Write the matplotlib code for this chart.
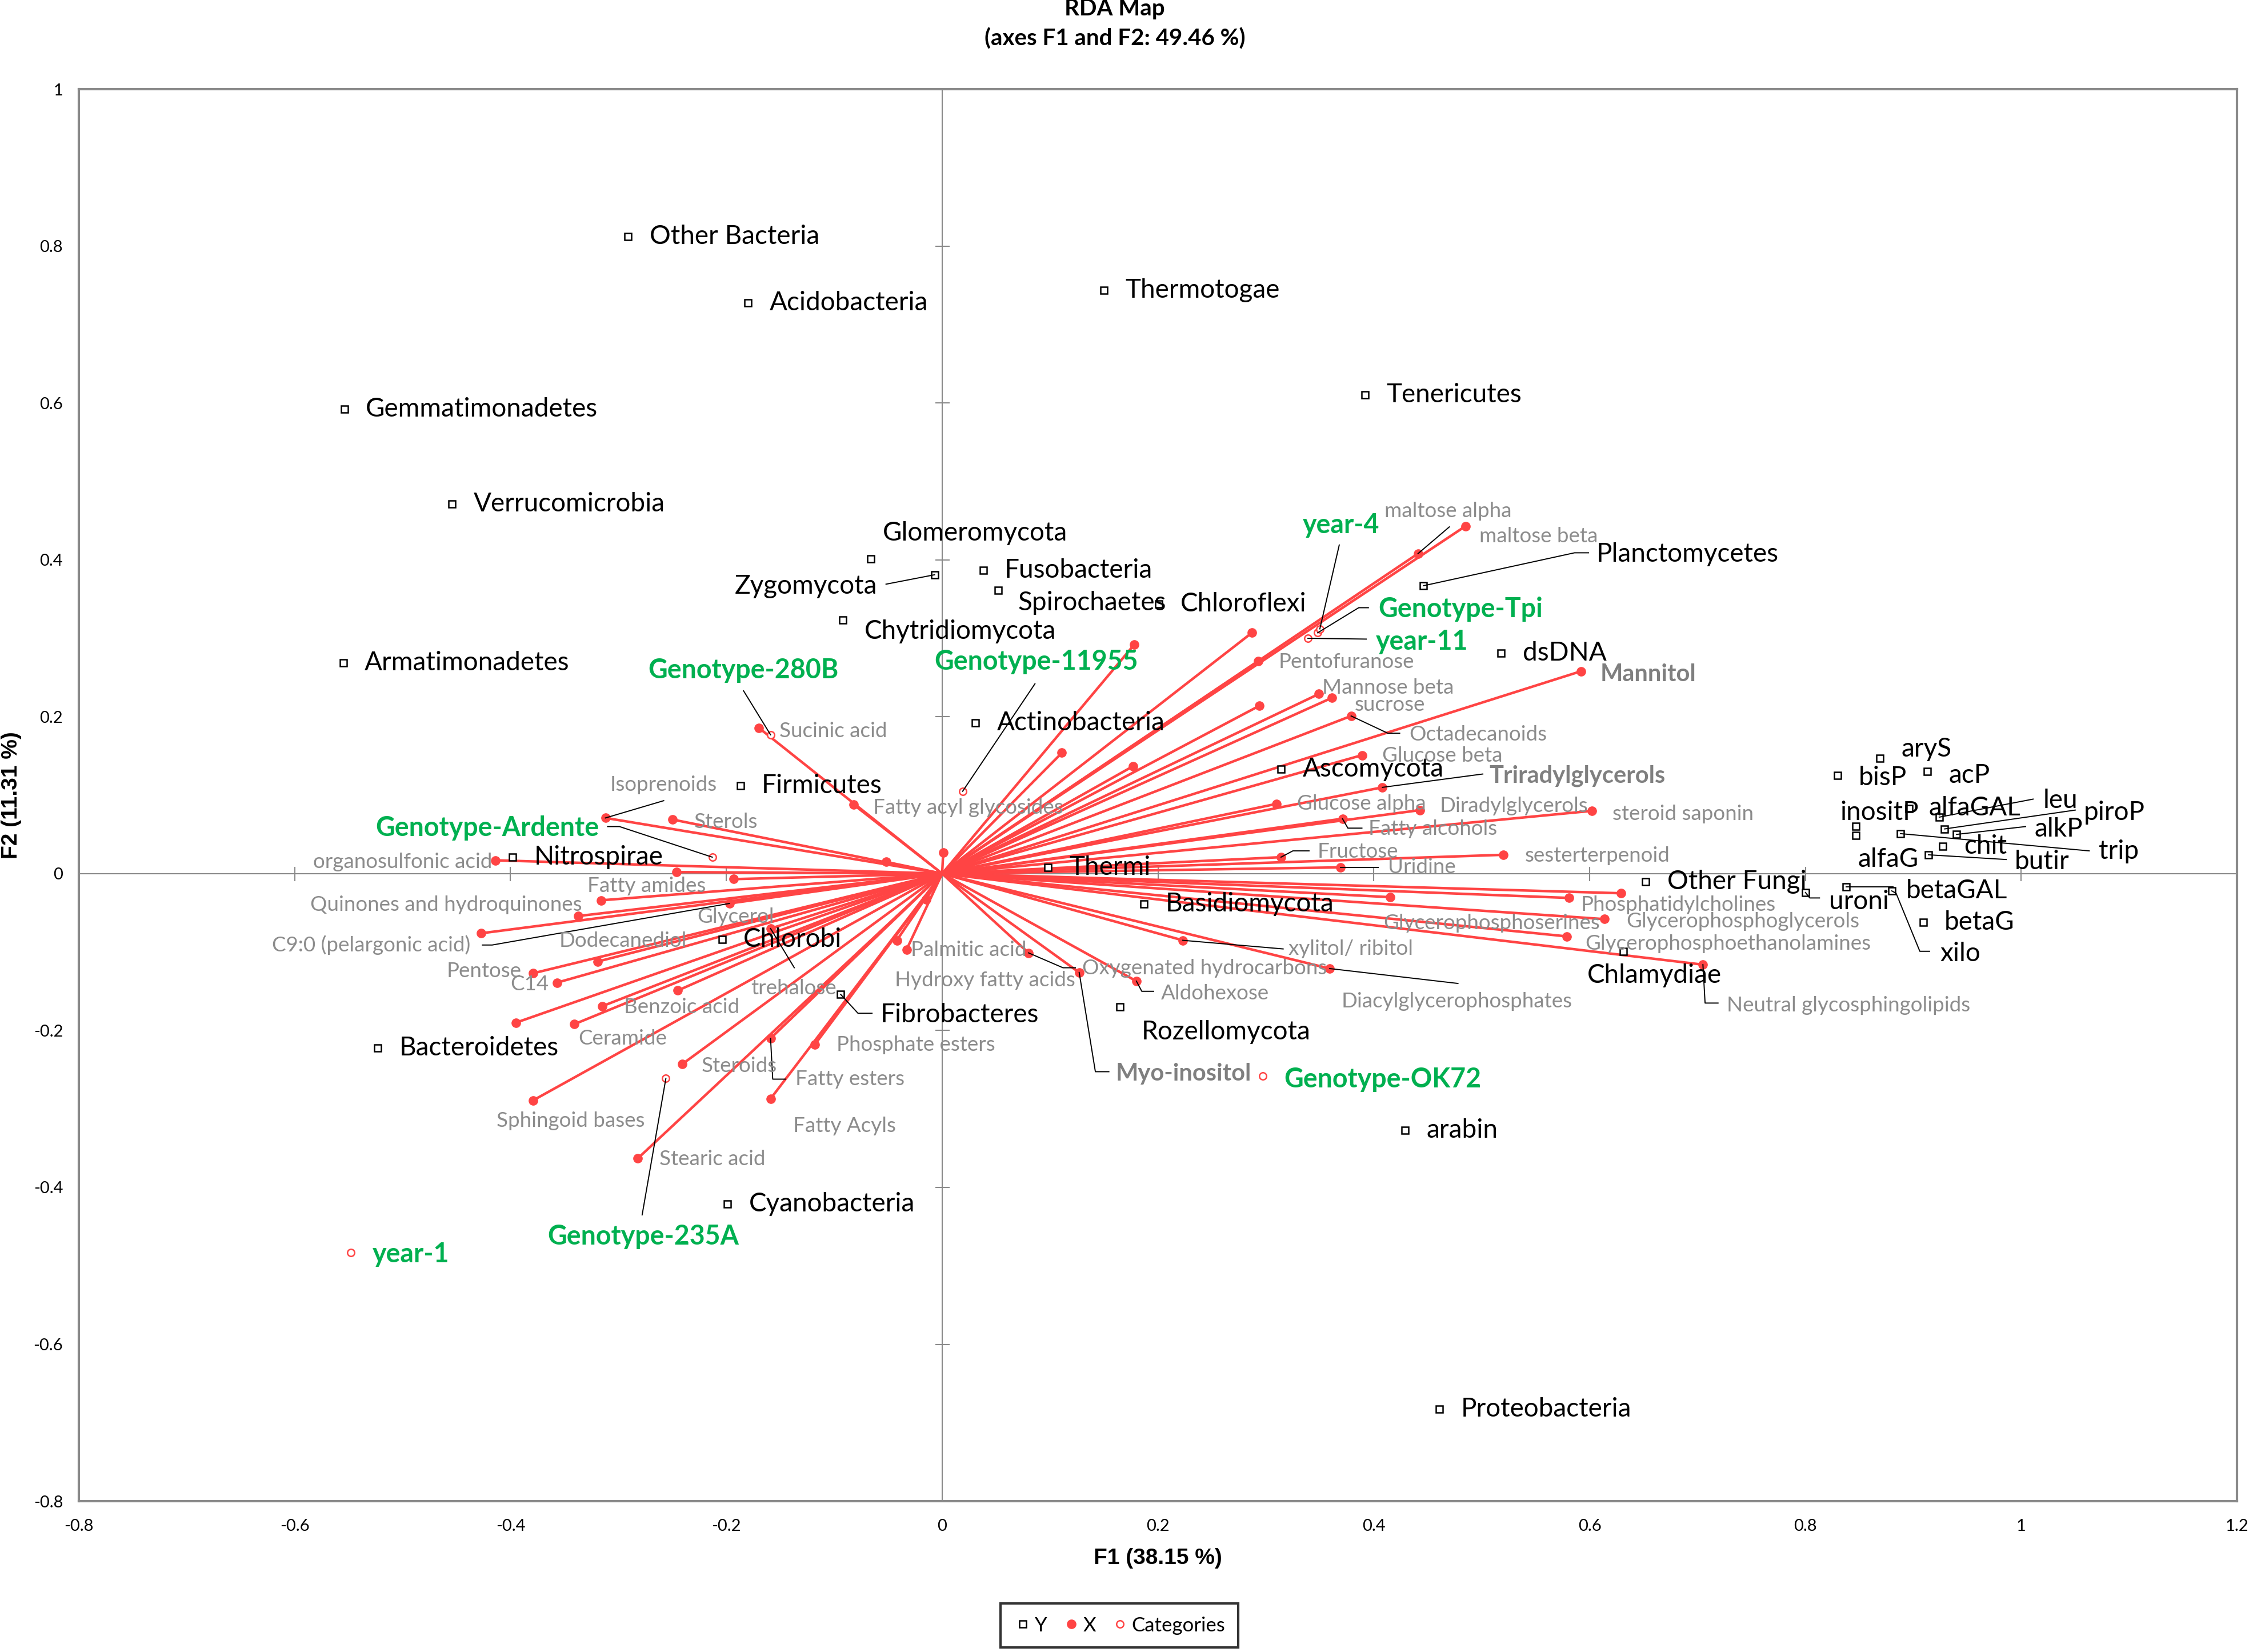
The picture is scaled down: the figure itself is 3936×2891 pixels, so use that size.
import matplotlib
matplotlib.use('Agg')
import matplotlib.pyplot as plt
from matplotlib.lines import Line2D

plt.rcParams['font.family'] = ['Lato', 'DejaVu Sans']

# ---------------- data (F1, F2 scores) ----------------
# Y variables (black squares)
y_names = ['Other Bacteria', 'Acidobacteria', 'Thermotogae', 'Tenericutes', 'Gemmatimonadetes',
           'Verrucomicrobia', 'Glomeromycota', 'Zygomycota', 'Fusobacteria', 'Spirochaetes',
           'Chloroflexi', 'Chytridiomycota', 'Armatimonadetes', 'Planctomycetes', 'dsDNA',
           'Actinobacteria', 'Firmicutes', 'Ascomycota', 'Nitrospirae', 'Thermi',
           'Basidiomycota', 'Chlorobi', 'Fibrobacteres', 'Rozellomycota', 'Bacteroidetes',
           'Cyanobacteria', 'arabin', 'Proteobacteria', 'Other Fungi', 'Chlamydiae',
           'uroni', 'betaGAL', 'xilo', 'betaG', 'aryS', 'bisP', 'acP', 'inositP', 'alfaG',
           'alfaGAL', 'leu', 'piroP', 'alkP', 'trip', 'chit', 'butir']
y_f1 = [-0.291, -0.180, 0.150, 0.392, -0.554, -0.454, -0.066, -0.007, 0.038, 0.052,
        0.201, -0.092, -0.555, 0.446, 0.518, 0.031, -0.187, 0.314, -0.398, 0.098,
        0.187, -0.204, -0.094, 0.165, -0.523, -0.199, 0.429, 0.461, 0.652, 0.631,
        0.800, 0.838, 0.880, 0.909, 0.869, 0.830, 0.913, 0.847, 0.847, 0.896,
        0.924, 0.929, 0.940, 0.888, 0.927, 0.914]
y_f2 = [0.812, 0.728, 0.744, 0.610, 0.592, 0.471, 0.401, 0.381, 0.387, 0.361,
        0.344, 0.323, 0.269, 0.367, 0.281, 0.192, 0.112, 0.133, 0.021, 0.008,
        -0.039, -0.084, -0.154, -0.170, -0.222, -0.421, -0.327, -0.683, -0.010, -0.099,
        -0.024, -0.017, -0.022, -0.062, 0.147, 0.125, 0.130, 0.060, 0.049, 0.083,
        0.072, 0.057, 0.050, 0.051, 0.035, 0.024]

# X variables (red vectors), '' = unlabelled on the map
x_names = ['Sucinic acid', 'Fatty acyl glycosides', 'Isoprenoids', 'Sterols', 'organosulfonic acid',
           '', 'Fatty amides', 'Glycerol', 'Quinones and hydroquinones', 'Dodecanediol',
           '', 'C9:0 (pelargonic acid)', '', 'Pentose', 'C14', 'Benzoic acid', '', '',
           'Ceramide', 'Steroids', 'Sphingoid bases', 'Stearic acid', 'Fatty esters',
           'Phosphate esters', 'Fatty Acyls', 'Hydroxy fatty acids', 'Palmitic acid', '', '',
           'trehalose',
           'maltose alpha', 'maltose beta', '', '', 'Pentofuranose', 'Mannose beta', 'sucrose',
           '', 'Octadecanoids', '', '', 'Glucose beta', 'Triradylglycerols', 'Mannitol',
           'Glucose alpha', 'Diradylglycerols', 'Fatty alcohols', 'steroid saponin', 'Fructose',
           'sesterterpenoid', 'Uridine', 'Phosphatidylcholines', '', 'Glycerophosphoserines',
           'Glycerophosphoglycerols', 'Glycerophosphoethanolamines', 'Neutral glycosphingolipids',
           'Diacylglycerophosphates', 'xylitol/ ribitol', 'Aldohexose', 'Myo-inositol',
           'Oxygenated hydrocarbons']
x_f1 = [-0.170, -0.082, -0.312, -0.250, -0.414, -0.052, -0.246, -0.193, -0.316, -0.337,
        -0.427, -0.197, -0.319, -0.379, -0.357, -0.245, -0.315, -0.395, -0.341, -0.241,
        -0.379, -0.282, -0.159, -0.118, -0.159, -0.042, -0.033, -0.015, 0.001, -0.159,
        0.441, 0.485, 0.287, 0.178, 0.293, 0.349, 0.361, 0.294, 0.379, 0.111,
        0.177, 0.389, 0.408, 0.592, 0.310, 0.443, 0.371, 0.602, 0.314, 0.520,
        0.369, 0.629, 0.581, 0.415, 0.614, 0.579, 0.705, 0.359, 0.223, 0.180,
        0.127, 0.080]
x_f2 = [0.186, 0.088, 0.071, 0.069, 0.017, 0.015, 0.002, -0.007, -0.034, -0.054,
        -0.076, -0.038, -0.112, -0.127, -0.139, -0.149, -0.169, -0.190, -0.192, -0.243,
        -0.289, -0.363, -0.210, -0.218, -0.287, -0.085, -0.097, -0.033, 0.027, -0.070,
        0.408, 0.443, 0.307, 0.292, 0.271, 0.229, 0.224, 0.214, 0.201, 0.154,
        0.137, 0.151, 0.110, 0.258, 0.089, 0.081, 0.070, 0.080, 0.021, 0.024,
        0.008, -0.025, -0.031, -0.030, -0.058, -0.080, -0.116, -0.121, -0.085, -0.137,
        -0.126, -0.101]
x_bold = ['Triradylglycerols', 'Mannitol', 'Myo-inositol']

# Categories (hollow red circles)
cat_names = ['Genotype-280B', 'Genotype-11955', 'Genotype-Ardente', 'Genotype-Tpi', 'year-4',
             'year-11', 'Genotype-OK72', 'Genotype-235A', 'year-1']
cat_f1 = [-0.159, 0.019, -0.213, 0.348, 0.350, 0.339, 0.297, -0.256, -0.548]
cat_f2 = [0.177, 0.105, 0.021, 0.307, 0.312, 0.300, -0.258, -0.261, -0.483]

x_ticks = [-0.8, -0.6, -0.4, -0.2, 0, 0.2, 0.4, 0.6, 0.8, 1, 1.2]
y_ticks = [-0.8, -0.6, -0.4, -0.2, 0, 0.2, 0.4, 0.6, 0.8, 1]

# ---------------- label layout: name -> (x, y, ha, leader waypoints) ----------------
y_lab = {
    'Glomeromycota': (-0.055, 0.434, 'left', []),
    'Zygomycota': (-0.060, 0.366, 'right', [(-0.052, 0.369)]),
    'Spirochaetes': (0.070, 0.345, 'left', []),
    'Chytridiomycota': (-0.072, 0.309, 'left', []),
    'Planctomycetes': (0.606, 0.407, 'left', [(0.586, 0.409), (0.599, 0.409)]),
    'Fibrobacteres': (-0.057, -0.180, 'left', [(-0.078, -0.178), (-0.065, -0.178)]),
    'Rozellomycota': (0.185, -0.202, 'left', []),
    'Chlamydiae': (0.598, -0.130, 'left', []),
    'uroni': (0.822, -0.036, 'left', [(0.804, -0.031), (0.813, -0.031)]),
    'betaGAL': (0.893, -0.022, 'left', [(0.881, -0.017)]),
    'xilo': (0.925, -0.102, 'left', [(0.884, -0.025), (0.906, -0.099), (0.915, -0.099)]),
    'aryS': (0.889, 0.159, 'left', []),
    'bisP': (0.849, 0.122, 'left', []),
    'acP': (0.933, 0.125, 'left', []),
    'inositP': (0.832, 0.078, 'left', []),
    'alfaG': (0.905, 0.018, 'right', []),
    'alfaGAL': (0.914, 0.084, 'left', []),
    'leu': (1.020, 0.093, 'left', [(1.011, 0.095)]),
    'piroP': (1.058, 0.078, 'left', [(1.050, 0.081)]),
    'alkP': (1.012, 0.057, 'left', [(1.004, 0.060)]),
    'trip': (1.072, 0.028, 'left', [(1.063, 0.029)]),
    'chit': (0.947, 0.035, 'left', []),
    'butir': (0.994, 0.015, 'left', [(0.986, 0.018)]),
}

x_lab = {
    'Sucinic acid': (-0.151, 0.182, 'left', []),
    'Fatty acyl glycosides': (-0.064, 0.084, 'left', []),
    'Isoprenoids': (-0.308, 0.113, 'left', [(-0.258, 0.093)]),
    'Sterols': (-0.230, 0.066, 'left', []),
    'organosulfonic acid': (-0.417, 0.015, 'right', []),
    'Fatty amides': (-0.329, -0.016, 'left', []),
    'Quinones and hydroquinones': (-0.334, -0.040, 'right', []),
    'Glycerol': (-0.227, -0.055, 'left', []),
    'C9:0 (pelargonic acid)': (-0.437, -0.091, 'right', [(-0.417, -0.091), (-0.426, -0.091)]),
    'Dodecanediol': (-0.355, -0.086, 'left', []),
    'Pentose': (-0.390, -0.124, 'right', []),
    'C14': (-0.400, -0.141, 'left', []),
    'trehalose': (-0.177, -0.146, 'left', [(-0.137, -0.120)]),
    'Benzoic acid': (-0.295, -0.170, 'left', []),
    'Ceramide': (-0.337, -0.210, 'left', []),
    'Steroids': (-0.223, -0.245, 'left', []),
    'Sphingoid bases': (-0.413, -0.315, 'left', []),
    'Stearic acid': (-0.262, -0.364, 'left', []),
    'Phosphate esters': (-0.098, -0.218, 'left', []),
    'Fatty esters': (-0.136, -0.262, 'left', [(-0.157, -0.262), (-0.145, -0.262)]),
    'Fatty Acyls': (-0.138, -0.322, 'left', []),
    'Palmitic acid': (-0.029, -0.097, 'left', []),
    'Hydroxy fatty acids': (-0.044, -0.136, 'left', []),
    'maltose alpha': (0.410, 0.462, 'left', [(0.470, 0.442)]),
    'maltose beta': (0.498, 0.430, 'left', []),
    'Pentofuranose': (0.312, 0.270, 'left', []),
    'Mannose beta': (0.352, 0.237, 'left', []),
    'sucrose': (0.382, 0.215, 'left', []),
    'Octadecanoids': (0.433, 0.177, 'left', [(0.413, 0.179), (0.424, 0.179)]),
    'Glucose beta': (0.408, 0.150, 'left', []),
    'Triradylglycerols': (0.507, 0.125, 'left', [(0.501, 0.127)]),
    'Mannitol': (0.610, 0.254, 'left', []),
    'Glucose alpha': (0.329, 0.089, 'left', []),
    'Diradylglycerols': (0.461, 0.086, 'left', []),
    'Fatty alcohols': (0.395, 0.057, 'left', [(0.376, 0.058), (0.389, 0.058)]),
    'steroid saponin': (0.621, 0.076, 'left', []),
    'Fructose': (0.348, 0.028, 'left', [(0.325, 0.029), (0.340, 0.029)]),
    'sesterterpenoid': (0.540, 0.023, 'left', []),
    'Uridine': (0.413, 0.008, 'left', [(0.404, 0.008)]),
    'Phosphatidylcholines': (0.592, -0.040, 'left', []),
    'Glycerophosphoserines': (0.409, -0.063, 'left', []),
    'Glycerophosphoglycerols': (0.634, -0.061, 'left', []),
    'Glycerophosphoethanolamines': (0.596, -0.089, 'left', []),
    'Neutral glycosphingolipids': (0.727, -0.168, 'left', [(0.707, -0.165), (0.719, -0.165)]),
    'Diacylglycerophosphates': (0.477, -0.163, 'center', [(0.478, -0.140)]),
    'xylitol/ ribitol': (0.321, -0.096, 'left', [(0.316, -0.096)]),
    'Aldohexose': (0.203, -0.153, 'left', [(0.185, -0.150), (0.196, -0.150)]),
    'Myo-inositol': (0.161, -0.255, 'left', [(0.142, -0.2525), (0.1545, -0.2525)]),
    'Oxygenated hydrocarbons': (0.130, -0.121, 'left', [(0.112, -0.120), (0.1235, -0.120)]),
}

cat_lab = {
    'Genotype-280B': (-0.184, 0.259, 'center', [(-0.184, 0.233)]),
    'Genotype-11955': (-0.007, 0.270, 'left', [(0.086, 0.242)]),
    'Genotype-Ardente': (-0.318, 0.058, 'right', [(-0.299, 0.060), (-0.310, 0.060)]),
    'Genotype-Tpi': (0.404, 0.337, 'left', [(0.386, 0.339), (0.395, 0.339)]),
    'year-4': (0.334, 0.444, 'left', [(0.368, 0.419)]),
    'year-11': (0.402, 0.296, 'left', [(0.393, 0.299)]),
    'Genotype-OK72': (0.317, -0.262, 'left', []),
    'Genotype-235A': (-0.277, -0.463, 'center', [(-0.278, -0.435)]),
    'year-1': (-0.528, -0.485, 'left', []),
}

RED = '#FF4444'
GREEN = '#00B050'
GREY = '#8C8C8C'
AXGREY = '#8A8A8A'

fig = plt.figure(figsize=(39.37, 28.91), dpi=100)
ax = fig.add_axes([0.03505, 0.0913, 0.9594, 0.8547])
ax.set_xlim(-0.8, 1.2)
ax.set_ylim(-0.8, 1.0)

# zero lines with small cross ticks
ax.axhline(0, color=AXGREY, lw=1.5, zorder=1)
ax.axvline(0, color=AXGREY, lw=1.5, zorder=1)
ax.plot(x_ticks[1:-1], [0] * len(x_ticks[1:-1]), ls='none', marker='|', ms=18,
        mew=1.5, color=AXGREY, zorder=1)
ax.plot([0] * len(y_ticks[1:-1]), y_ticks[1:-1], ls='none', marker='_', ms=18,
        mew=1.5, color=AXGREY, zorder=1)

for s in ax.spines.values():
    s.set_color(AXGREY)
    s.set_linewidth(3)

ax.set_xticks(x_ticks)
ax.set_yticks(y_ticks)
ax.set_xticklabels(['%g' % t for t in x_ticks])
ax.set_yticklabels(['%g' % t for t in y_ticks])
ax.tick_params(axis='x', length=0, pad=22, labelsize=21)
ax.tick_params(axis='y', length=0, pad=20, labelsize=21)

ax.set_xlabel('F1 (38.15 %)', fontsize=28, fontweight='bold', family=['Liberation Sans', 'DejaVu Sans'],
              va='center')
ax.xaxis.set_label_coords(0.5, -0.0405)
ax.set_ylabel('F2 (11.31 %)', fontsize=28, fontweight='bold', family=['Liberation Sans', 'DejaVu Sans'],
              va='center')
ax.yaxis.set_label_coords(-0.0312, 0.5)

fig.text(0.4956, 0.9948, 'RDA Map', ha='center', va='center', fontsize=29, fontweight='bold')
fig.text(0.4956, 0.9765, '(axes F1 and F2: 49.46 %)', ha='center', va='center', fontsize=29,
         fontweight='bold')

# X vectors
for fx, fy in zip(x_f1, x_f2):
    ax.plot([0, fx], [0, fy], color=RED, lw=3.2, zorder=2, solid_capstyle='round')
ax.plot(x_f1, x_f2, ls='none', marker='o', ms=11, color=RED, zorder=3)

# Y points
ax.plot(y_f1, y_f2, ls='none', marker='s', ms=8, mfc='white', mec='black', mew=1.8, zorder=4)

# Category points
ax.plot(cat_f1, cat_f2, ls='none', marker='o', ms=9, mfc='white', mec=RED, mew=1.8, zorder=4)


def put_label(px, py, name, lay, color, size, weight):
    if lay is None:
        ax.annotate(name, (px, py), xytext=(27, 0), textcoords='offset points',
                    ha='left', va='center', fontsize=size, color=color, fontweight=weight, zorder=6)
        return
    lx, ly, ha, leader = lay
    if leader:
        xs = [px] + [p[0] for p in leader]
        ys = [py] + [p[1] for p in leader]
        ax.plot(xs, ys, color='black', lw=1.4, zorder=5)
    ax.text(lx, ly, name, ha=ha, va='center', fontsize=size, color=color,
            fontweight=weight, zorder=6)


for n, fx, fy in zip(y_names, y_f1, y_f2):
    put_label(fx, fy, n, y_lab.get(n), 'black', 33, 'normal')

for n, fx, fy in zip(x_names, x_f1, x_f2):
    if not n:
        continue
    if n in x_bold:
        put_label(fx, fy, n, x_lab.get(n), '#7F7F7F', 30, 'bold')
    else:
        put_label(fx, fy, n, x_lab.get(n), GREY, 26.5, 'normal')

for n, fx, fy in zip(cat_names, cat_f1, cat_f2):
    put_label(fx, fy, n, cat_lab.get(n), GREEN, 33.5, 'bold')

handles = [
    Line2D([], [], ls='none', marker='s', ms=8, mfc='white', mec='black', mew=1.8, label='Y'),
    Line2D([], [], ls='none', marker='o', ms=11, color=RED, label='X'),
    Line2D([], [], ls='none', marker='o', ms=9, mfc='white', mec=RED, mew=1.8, label='Categories'),
]
leg = fig.legend(handles=handles, loc='lower center', bbox_to_anchor=(0.4975, 0.0015), ncol=3,
                 fontsize=25, frameon=True, fancybox=False, handletextpad=0.1,
                 columnspacing=0.7, handlelength=1.0, borderpad=0.65, borderaxespad=0.1)
leg.get_frame().set_edgecolor('black')
leg.get_frame().set_linewidth(3)

fig.savefig('out.png', dpi=100)
